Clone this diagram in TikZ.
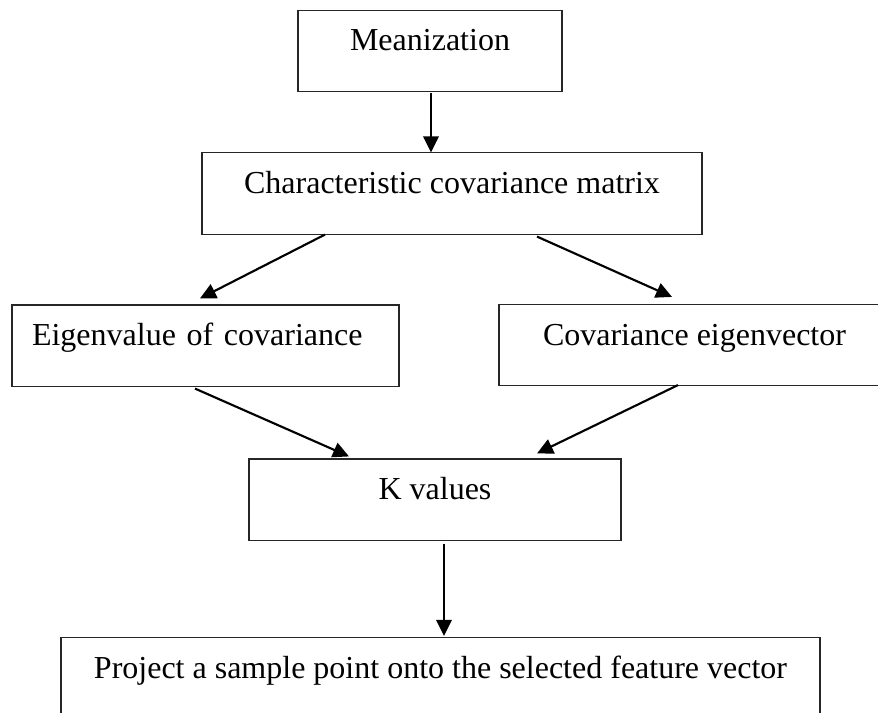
\documentclass[tikz,border=0pt]{standalone}
\usepackage{fontspec}
\setmainfont{Liberation Serif}
\usetikzlibrary{arrows.meta,calc}
\tikzset{
  stepbox/.style={draw=black!85, line width=0.8pt, rectangle, inner ysep=0pt,
    text height=30.4pt, text depth=30.4pt, font=\fontsize{24pt}{28pt}\selectfont},
  arr/.style={line width=1.6pt, -{Triangle[length=12pt,width=11.5pt]}}
}
\begin{document}
\begin{tikzpicture}[x=0.75pt,y=-0.75pt]
\clip (0,0) rectangle (878,713);
\fill[white] (0,0) rectangle (878,713);
\node[stepbox, minimum width=198pt] (m) at (430,51) {Meanization};
\node[stepbox, minimum width=375pt] (c) at (452,193.5) {Characteristic covariance matrix};
\node[stepbox, inner xsep=15pt, text width=260.25pt] (e) at (205.5,345.5) {\noindent Eigenvalue of covariance\hfill\null};
\node[stepbox, minimum width=293.25pt] (v) at (694.5,345) {Covariance eigenvector};
\node[stepbox, minimum width=279pt] (k) at (435,499.5) {K values};
\node[stepbox, minimum width=569.25pt] (p) at (440.5,678) {Project a sample point onto the selected feature vector};
\draw[arr] ($(m.south)+(1,1)$) -- ($(c.north)+(-21,0)$);
\draw[arr] ($(c.south)+(-127,0)$) -- ($(e.north)+(-5.5,-6)$);
\draw[arr] ($(c.south)+(85,2)$) -- ($(v.north)+(-22.5,-7)$);
\draw[arr] ($(e.south)+(-10.5,2)$) -- ($(k.north)+(-86,-2)$);
\draw[arr] ($(v.south)+(-16.5,-1)$) -- ($(k.north)+(102,-5)$);
\draw[arr] ($(k.south)+(9,3)$) -- ($(p.north)+(3.5,-1)$);
\end{tikzpicture}
\end{document}
